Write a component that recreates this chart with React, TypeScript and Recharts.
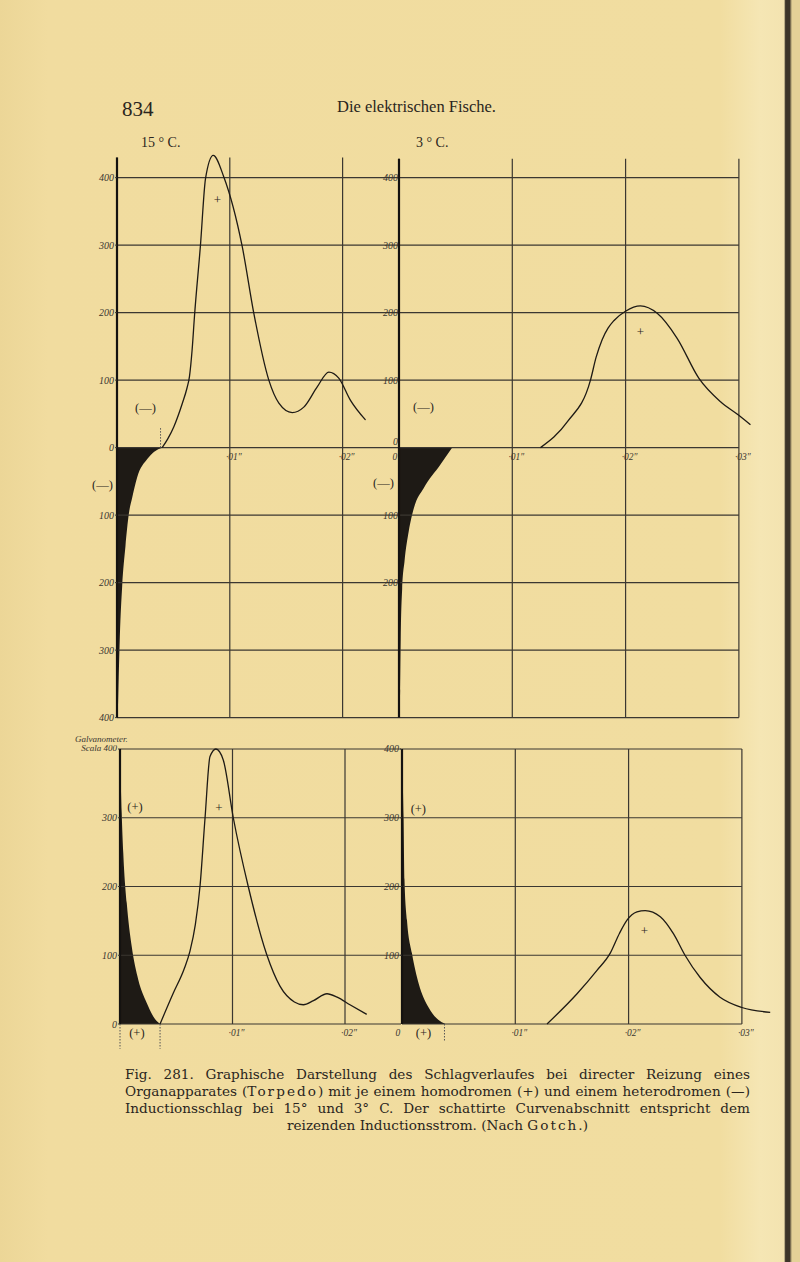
import React from "react";
import {
  ComposedChart, Line, Area, XAxis, YAxis, ReferenceLine, ReferenceDot,
} from "recharts";

// t in ms (grid step ·01″ = 10 ms), v in galvanometer scale divisions

// 15° C, heterodromous (—) stimulus: shaded stimulus + organ response
const het15 = [
  { t: 0, v: -400 }, { t: 0.07, v: -392 }, { t: 0.15, v: -340 }, { t: 0.25, v: -280 },
  { t: 0.46, v: -205 }, { t: 0.75, v: -146 }, { t: 1.05, v: -98 }, { t: 1.35, v: -74 },
  { t: 1.79, v: -44 }, { t: 2.68, v: -17 }, { t: 3.3, v: -6 }, { t: 4.0, v: 0 },
];
const resp15het = [
  { t: 4.0, v: 0 }, { t: 4.5, v: 13 }, { t: 5.04, v: 31 }, { t: 5.78, v: 65 },
  { t: 6.2, v: 88 }, { t: 6.43, v: 106 }, { t: 6.66, v: 145 }, { t: 6.87, v: 195 },
  { t: 7.4, v: 300 }, { t: 7.85, v: 399 }, { t: 8.53, v: 433 }, { t: 9.47, v: 401 },
  { t: 11.1, v: 298 }, { t: 12.13, v: 199 }, { t: 13.46, v: 100 }, { t: 14.35, v: 66 },
  { t: 15.53, v: 52 }, { t: 16.56, v: 60 }, { t: 17.75, v: 90 }, { t: 18.78, v: 112 },
  { t: 19.66, v: 103 }, { t: 20.7, v: 70 }, { t: 22.03, v: 41 },
];

// 3° C, heterodromous (—)
const het3 = [
  { t: 0, v: -400 }, { t: 0.1, v: -360 }, { t: 0.15, v: -283 }, { t: 0.28, v: -209 },
  { t: 0.49, v: -168 }, { t: 0.86, v: -124 }, { t: 1.31, v: -90 }, { t: 2.19, v: -60 },
  { t: 3.66, v: -25 }, { t: 4.7, v: 0 },
];
const resp3het = [
  { t: 12.49, v: 0 }, { t: 14.85, v: 38 }, { t: 16.9, v: 100 }, { t: 17.4, v: 134 },
  { t: 17.93, v: 160 }, { t: 18.45, v: 177 }, { t: 18.96, v: 188 }, { t: 19.99, v: 202 },
  { t: 21.31, v: 210 }, { t: 22.79, v: 199 }, { t: 24.55, v: 162 }, { t: 26.46, v: 103 },
  { t: 28.38, v: 68 }, { t: 29.99, v: 48 }, { t: 31.02, v: 34 },
];

// 15° C, homodromous (+)
const hom15 = [
  { t: 0, v: 400 }, { t: 0.15, v: 307 }, { t: 0.29, v: 249 }, { t: 0.6, v: 176 },
  { t: 1.04, v: 113 }, { t: 1.63, v: 64 }, { t: 2.37, v: 31 }, { t: 2.96, v: 11 },
  { t: 3.56, v: 0 },
];
const resp15hom = [
  { t: 3.56, v: 0 }, { t: 4.74, v: 45 }, { t: 5.7, v: 80 }, { t: 6.22, v: 106 },
  { t: 6.7, v: 145 }, { t: 7.11, v: 200 }, { t: 7.56, v: 300 }, { t: 8.0, v: 389 },
  { t: 8.53, v: 400 }, { t: 9.18, v: 384 }, { t: 10.07, v: 300 }, { t: 11.4, v: 200 },
  { t: 13.04, v: 101 }, { t: 14.22, v: 55 }, { t: 15.5, v: 32 }, { t: 16.3, v: 28 },
  { t: 17.2, v: 34 }, { t: 18.4, v: 44 }, { t: 19.3, v: 39 }, { t: 20.44, v: 28 },
  { t: 21.93, v: 14 },
];

// 3° C, homodromous (+)
const hom3 = [
  { t: 0, v: 400 }, { t: 0.14, v: 298 }, { t: 0.22, v: 210 }, { t: 0.44, v: 151 },
  { t: 0.88, v: 103 }, { t: 1.47, v: 59 }, { t: 2.35, v: 24 }, { t: 3.2, v: 6 },
  { t: 3.82, v: 0 },
];
const resp3hom = [
  { t: 12.8, v: 0 }, { t: 15.45, v: 44 }, { t: 17.21, v: 78 }, { t: 18.38, v: 103 },
  { t: 19.2, v: 132 }, { t: 19.86, v: 151 }, { t: 20.74, v: 163 }, { t: 21.47, v: 165 },
  { t: 22.8, v: 156 }, { t: 23.97, v: 131 }, { t: 24.98, v: 100 }, { t: 26.3, v: 68 },
  { t: 28.07, v: 39 }, { t: 30.0, v: 24 }, { t: 32.5, v: 17 },
];

const ticks15 = [0, 10, 20];
const ticks3 = [0, 10, 20, 30];
const topLevels = [-400, -300, -200, -100, 0, 100, 200, 300, 400];
const botLevels = [0, 100, 200, 300, 400];
const topLeftYTicks = topLevels;
const topRightYTicks = [-200, -100, 0, 100, 200, 300, 400];
const botLeftYTicks = [0, 100, 200, 300, 400];
const botRightYTicks = [100, 200, 300, 400];

const xLab15 = [{ t: 10, text: "·01″" }, { t: 20, text: "·02″" }];
const xLab3 = [{ t: 0, text: "0" }, { t: 10, text: "·01″" }, { t: 20, text: "·02″" }, { t: 30, text: "·03″" }];

const notesTL = [
  { t: 8.9, v: 367, text: "+" }, { t: 2.53, v: 58, text: "(—)" }, { t: -1.29, v: -56, text: "(—)" },
];
const notesTR = [
  { t: 2.16, v: 60, text: "(—)" }, { t: 21.3, v: 172, text: "+" }, { t: -1.37, v: -53, text: "(—)" },
];
const notesBL = [
  { t: 1.33, v: 315, text: "(+)" }, { t: 8.8, v: 315, text: "+" }, { t: 1.5, v: -13, text: "(+)" },
];
const notesBR = [
  { t: 1.44, v: 313, text: "(+)" }, { t: 21.4, v: 136, text: "+" }, { t: 1.9, v: -13, text: "(+)" },
];
const dotsTL = [{ t: 3.86, v1: 0, v2: 30 }];
const dotsBL = [{ t: 0, v1: 0, v2: -36 }, { t: 3.56, v1: 0, v2: -36 }];
const dotsBR = [{ t: 3.75, v1: 0, v2: -24 }];

const INK = "#1e1a15";
const GRID = "#3b3731";
const SERIF = "'Liberation Serif', 'DejaVu Serif', serif";
const YW = 60, MT = 20, XH = 40;

const labFont = { fontFamily: SERIF, fontStyle: "italic" as const, fontSize: 10, fill: "#3a3630" };

const absTick = (zeroUp: boolean) => (props: any) => {
  const v = props.payload.value;
  return (
    <text x={props.x} y={props.y} dy={v === 0 && zeroUp ? -2.5 : 3.5} textAnchor="end" {...labFont}>
      {Math.abs(v)}
    </text>
  );
};

const galvTick = (props: any) => {
  const v = props.payload.value;
  if (v === 400) {
    return (
      <g>
        <text x={props.x - 42} y={props.y - 7} {...labFont} fontSize={9}>Galvanometer.</text>
        <text x={props.x} y={props.y + 2} textAnchor="end" {...labFont} fontSize={9}>Scala 400</text>
      </g>
    );
  }
  return <text x={props.x} y={props.y} dy={3.5} textAnchor="end" {...labFont}>{v}</text>;
};

type Pt = { t: number; v: number };
type Note = { t: number; v: number; text: string };

function Sub(p: {
  x0: number; plotTop: number; plotW: number; plotH: number;
  xMax: number; yDomain: [number, number]; vTop: number; xTicks: number[]; levels: number[]; gridTo: number;
  yTicks: number[]; yTick: (props: any) => React.ReactElement; tickSize: number;
  shade: Pt[]; resp: Pt[]; notes: Note[]; xLabels: { t: number; text: string }[];
  dots: { t: number; v1: number; v2: number }[];
}) {
  return (
    <div style={{ position: "absolute", left: p.x0 - YW, top: p.plotTop - MT }}>
      <ComposedChart
        width={YW + p.plotW}
        height={MT + p.plotH + XH}
        margin={{ top: MT, right: 0, bottom: 0, left: 0 }}
      >
        {p.levels.map((v) => (
          <ReferenceLine
            key={"h" + v}
            segment={[{ x: 0, y: v }, { x: p.gridTo, y: v }]}
            stroke={GRID}
            strokeWidth={1.2}
            ifOverflow="visible"
          />
        ))}
        {p.xTicks.map((t) => (
          <ReferenceLine
            key={"v" + t}
            segment={[{ x: t, y: p.yDomain[0] }, { x: t, y: p.vTop }]}
            stroke={GRID}
            strokeWidth={1.2}
            ifOverflow="visible"
          />
        ))}
        <XAxis
          type="number" dataKey="t" domain={[0, p.xMax]} ticks={p.xTicks}
          tick={false} axisLine={false} tickLine={false} height={XH}
        />
        <YAxis
          type="number" domain={p.yDomain} ticks={p.yTicks} interval={0} width={YW}
          tick={p.yTick} tickSize={p.tickSize} tickMargin={1}
          tickLine={p.tickSize > 0 ? { stroke: GRID } : false}
          axisLine={false}
        />
        <ReferenceLine
          segment={[{ x: 0, y: p.yDomain[0] }, { x: 0, y: p.vTop }]}
          stroke="#141210"
          strokeWidth={2.2}
          ifOverflow="visible"
        />
        <Area
          data={p.shade} dataKey="v" type="monotone" baseValue={0}
          fill={INK} fillOpacity={1} stroke="none" isAnimationActive={false}
        />
        <Line
          data={p.resp} dataKey="v" type="monotone" stroke={INK} strokeWidth={1.3}
          dot={false} isAnimationActive={false}
        />
        {p.dots.map((d, i) => (
          <ReferenceLine
            key={"d" + i}
            segment={[{ x: d.t, y: d.v1 }, { x: d.t, y: d.v2 }]}
            stroke="#555"
            strokeWidth={1}
            strokeDasharray="1.5 1.5"
            ifOverflow="visible"
          />
        ))}
        {p.xLabels.map((l) => (
          <ReferenceDot
            key={"x" + l.t}
            x={l.t}
            y={0}
            r={1}
            ifOverflow="visible"
            shape={(s: any) => (
              <text
                x={s.cx + (l.t === 0 ? -4 : 4)} y={s.cy + 9}
                textAnchor="middle" dominantBaseline="central" {...labFont} fontSize={9.5}
              >
                {l.text}
              </text>
            )}
          />
        ))}
        {p.notes.map((n, i) => (
          <ReferenceDot
            key={"n" + i}
            x={n.t}
            y={n.v}
            r={1}
            ifOverflow="visible"
            shape={(s: any) => (
              <text
                x={s.cx} y={s.cy} textAnchor="middle" dominantBaseline="central"
                fontFamily={SERIF} fontSize={n.text === "+" ? 13 : 12.5} fill="#2a2520"
              >
                {n.text}
              </text>
            )}
          />
        ))}
      </ComposedChart>
    </div>
  );
}

const captionStyle: React.CSSProperties = { textAlign: "justify", textAlignLast: "justify", whiteSpace: "nowrap" };

export default function App() {
  const topY: [number, number] = [-400, 435];
  const topPlotTop = 447.5 - 435 * 0.675;
  const topPlotH = 835 * 0.675;
  return (
    <div
      style={{
        position: "absolute", left: 0, top: 0, width: 800, height: 1262, overflow: "hidden",
        background:
          "linear-gradient(to right, #ecd697 0%, #f1dc9f 6%, #f1dda0 90%, #f5e6b4 95%, #f3e3b0 98%, #3c3428 98.2%, #3c3428 98.7%, #e4d197 99%)",
        fontFamily: SERIF, color: "#2a2520",
      }}
    >
      <div style={{ position: "absolute", left: 122, top: 99, fontSize: 21, lineHeight: "21px" }}>834</div>
      <div style={{ position: "absolute", left: 337, top: 98, fontSize: 16.5, lineHeight: "17px" }}>
        Die elektrischen Fische.
      </div>
      <div style={{ position: "absolute", left: 141, top: 136, fontSize: 14, lineHeight: "14px" }}>15 ° C.</div>
      <div style={{ position: "absolute", left: 416, top: 136, fontSize: 14, lineHeight: "14px" }}>3 ° C.</div>

      <Sub
        x0={116.5} plotTop={topPlotTop} plotW={25 * 11.28} plotH={topPlotH}
        xMax={25} yDomain={topY} vTop={430} xTicks={ticks15} levels={topLevels} gridTo={25}
        yTicks={topLeftYTicks} yTick={absTick(false)} tickSize={2}
        shade={het15} resp={resp15het} notes={notesTL} xLabels={xLab15} dots={dotsTL}
      />
      <Sub
        x0={398.5} plotTop={topPlotTop} plotW={31.8 * 11.33} plotH={topPlotH}
        xMax={31.8} yDomain={topY} vTop={428} xTicks={ticks3} levels={topLevels} gridTo={30}
        yTicks={topRightYTicks} yTick={absTick(true)} tickSize={0}
        shade={het3} resp={resp3het} notes={notesTR} xLabels={xLab3} dots={[]}
      />
      <Sub
        x0={120} plotTop={749.3} plotW={25 * 11.25} plotH={275}
        xMax={25} yDomain={[0, 400]} vTop={400} xTicks={ticks15} levels={botLevels} gridTo={25}
        yTicks={botLeftYTicks} yTick={galvTick} tickSize={2}
        shade={hom15} resp={resp15hom} notes={notesBL} xLabels={xLab15} dots={dotsBL}
      />
      <Sub
        x0={401.7} plotTop={749.3} plotW={33 * 11.33} plotH={275}
        xMax={33} yDomain={[0, 400]} vTop={400} xTicks={ticks3} levels={botLevels} gridTo={30}
        yTicks={botRightYTicks} yTick={absTick(false)} tickSize={2}
        shade={hom3} resp={resp3hom} notes={notesBR} xLabels={xLab3} dots={dotsBR}
      />

      <div
        style={{
          position: "absolute", left: 125, top: 1066, width: 625,
          fontFamily: "'DejaVu Serif', serif", fontSize: 13.6, lineHeight: "17px",
        }}
      >
        <div style={captionStyle}>
          Fig. 281. Graphische Darstellung des Schlagverlaufes bei directer Reizung eines
        </div>
        <div style={captionStyle}>
          Organapparates (<span style={{ letterSpacing: "0.15em" }}>Torpedo</span>) mit je einem homodromen (+) und einem heterodromen (—)
        </div>
        <div style={captionStyle}>
          Inductionsschlag bei 15° und 3° C. Der schattirte Curvenabschnitt entspricht dem
        </div>
        <div style={{ textAlign: "center" }}>
          reizenden Inductionsstrom. (Nach <span style={{ letterSpacing: "0.15em" }}>Gotch</span>.)
        </div>
      </div>
    </div>
  );
}
